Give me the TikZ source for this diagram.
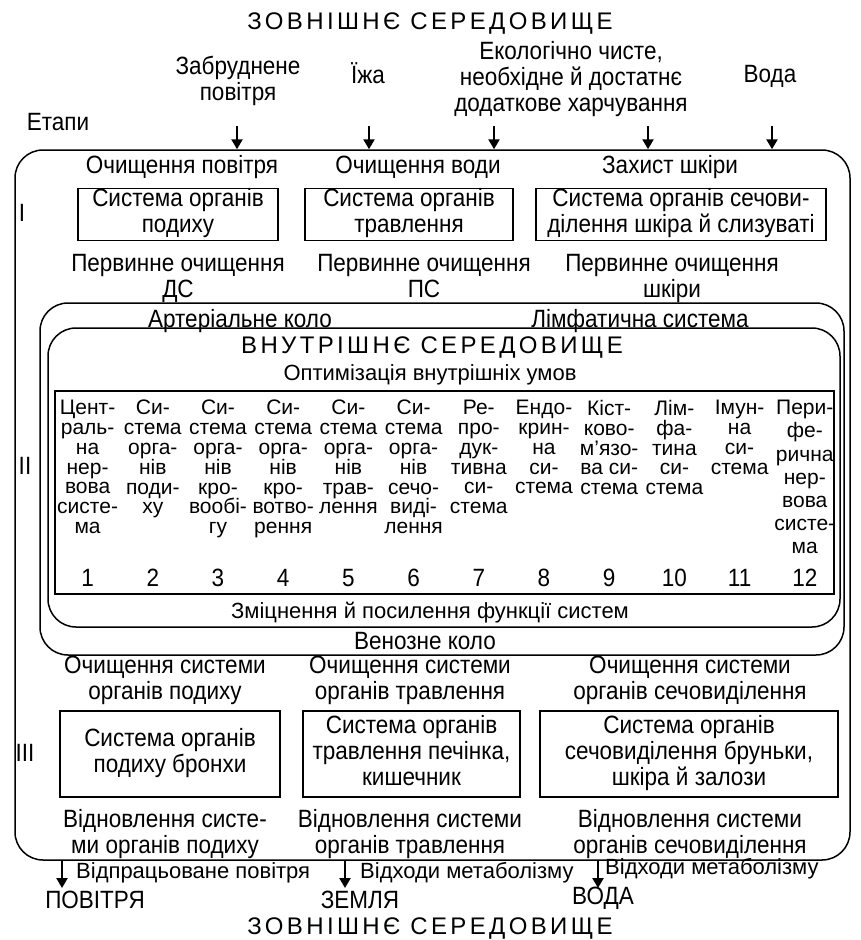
\documentclass[tikz,border=0pt]{standalone}
\usepackage{fontspec}
\setmainfont{Liberation Sans}
\newfontfamily\narrowfont{Liberation Sans}[FakeStretch=0.9]
\newfontfamily\tablefont{Liberation Sans}
\newfontfamily\spacedfont{Liberation Sans}[LetterSpace=14]
\usetikzlibrary{arrows.meta}

% fixed line pitch inside the organ-system columns
\newcommand{\tightlines}{\lineskiplimit=-60pt\lineskip=0pt}

\tikzset{
  lbl/.style={font=\narrowfont\fontsize{25}{26}\selectfont, align=center, inner sep=0pt,
    execute at begin node=\strut, execute at end node=\strut},
  smalllbl/.style={font=\tablefont\fontsize{22}{22}\selectfont, inner sep=0pt,
    execute at begin node=\strut},
  heading/.style={font=\spacedfont\fontsize{24}{27}\selectfont, inner sep=0pt,
    execute at begin node=\strut},
  tabline/.style={font=\tablefont\fontsize{22}{20}\selectfont, inner sep=0pt,
    execute at begin node=\strut},
  coltext/.style={font=\tablefont\fontsize{21}{19.8}\selectfont\tightlines, align=center,
    inner sep=0pt, anchor=north},
  frame/.style={draw, line width=1.5pt, rounded corners=28pt, inner sep=0pt},
  tablebox/.style={draw, line width=1.5pt, inner sep=0pt},
  sysbox/.style={lbl, draw, line width=1.5pt},
  flow/.style={line width=2.6pt, -{Triangle[width=11pt,length=10pt]}},
}

\begin{document}
\begin{tikzpicture}[x=1pt,y=-1pt]
\useasboundingbox (0,0) rectangle (861,940);

% nested frames: whole organism, circulation, internal environment, organ systems
\node[frame, minimum width=835pt, minimum height=710pt] (outer) at (432.5,505) {};
\node[frame, minimum width=804pt, minimum height=352pt] (arterial) at (442,479) {};
\node[frame, minimum width=792pt, minimum height=299pt] (inner) at (444,477.5) {};
\node[tablebox, minimum width=779pt, minimum height=203pt] (systems) at (444.5,492.5) {};

% headings
\node[heading] (exttop) at (430,24) {ЗОВНІШНЄ СЕРЕДОВИЩЕ};
\node[heading] (extbot) at (430,929) {ЗОВНІШНЄ СЕРЕДОВИЩЕ};
\node[heading] (internal) at (432,348) {ВНУТРІШНЄ СЕРЕДОВИЩЕ};

% incoming substances
\node[lbl] (air) at (238,82.5) {Забруднене\\повітря};
\node[lbl] (food) at (368,77) {Їжа};
\node[lbl] (extra) at (571,80.5) {Екологічно чисте,\\необхідне й достатнє\\додаткове харчування};
\node[lbl] (water) at (770,77) {Вода};
\node[lbl] (stages) at (58,125) {Етапи};

\coordinate (inA) at (237,126);
\coordinate (inB) at (369,126);
\coordinate (inC) at (494,126);
\coordinate (inD) at (648,126);
\coordinate (inE) at (772,126);
\foreach \c in {inA,inB,inC,inD,inE}
  \draw[flow] (\c) -- (\c |- outer.north);

% stage numbers
\node[lbl] (st1) at (22,216) {I};
\node[lbl] (st2) at (25,469) {II};
\node[lbl] (st3) at (25,756) {III};

% stage I
\node[lbl] (p1) at (182,168) {Очищення повітря};
\node[lbl] (p2) at (418,168) {Очищення води};
\node[lbl] (p3) at (670,168) {Захист шкіри};
\node[sysbox, minimum width=200pt, minimum height=51pt] (b1) at (178,214.5) {Система органів\\подиху};
\node[sysbox, minimum width=208pt, minimum height=51pt] (b2) at (409,214.5) {Система органів\\травлення};
\node[sysbox, minimum width=290pt, minimum height=51pt] (b3) at (681,214.5) {Система органів сечови-\\ділення шкіра й слизуваті};
\node[lbl] (q1) at (178,280) {Первинне очищення\\ДС};
\node[lbl] (q2) at (424,280) {Первинне очищення\\ПС};
\node[lbl] (q3) at (672,280) {Первинне очищення\\шкіри};

% stage II
\node[lbl] (art) at (240,322) {Артеріальне коло};
\node[lbl] (lymph) at (640,322) {Лімфатична система};
\node[tabline] (optim) at (430,376) {Оптимізація внутрішніх умов};
\foreach \i/\t in {
  1/{Цент-\\раль-\\на\\нер-\\вова\\систе-\\ма},
  2/{Си-\\стема\\орга-\\нів\\поди-\\ху},
  3/{Си-\\стема\\орга-\\нів\\кро-\\вообі-\\гу},
  4/{Си-\\стема\\орга-\\нів\\кро-\\вотво-\\рення},
  5/{Си-\\стема\\орга-\\нів\\трав-\\лення},
  6/{Си-\\стема\\орга-\\нів\\сечо-\\виді-\\лення},
  7/{Ре-\\про-\\дук-\\тивна\\си-\\стема},
  8/{Ендо-\\крин-\\на\\си-\\стема},
  9/{Кіст-\\ково-\\м’язо-\\ва си-\\стема},
  10/{Лім-\\фа-\\тина\\си-\\стема},
  11/{Імун-\\на\\си-\\стема}}
{
  \node[coltext] (col\i) at ({55+65.2*(\i-0.5)},400) {\t};
}
\node[coltext, font=\tablefont\fontsize{21}{23.2}\selectfont\tightlines] (col12) at ({55+65.2*11.5},400)
  {Пери-\\фе-\\рична\\нер-\\вова\\систе-\\ма};
\foreach \i in {1,...,12}
  \node[lbl] (num\i) at ({55+65.2*(\i-0.5)},581) {\i};
\node[tabline] (strength) at (430,613) {Зміцнення й посилення функції систем};
\node[lbl] (ven) at (425,644) {Венозне коло};

% stage III
\node[lbl] (r1) at (165,682) {Очищення системи\\органів подиху};
\node[lbl] (r2) at (410,682) {Очищення системи\\органів травлення};
\node[lbl] (r3) at (690,682) {Очищення системи\\органів сечовиділення};
\node[sysbox, minimum width=220pt, minimum height=86pt] (c1) at (170,754) {Система органів\\подиху бронхи};
\node[sysbox, minimum width=217pt, minimum height=86pt] (c2) at (411.5,754) {Система органів\\травлення печінка,\\кишечник};
\node[sysbox, minimum width=298pt, minimum height=86pt] (c3) at (689,754) {Система органів\\сечовиділення бруньки,\\шкіра й залози};
\node[lbl] (s1) at (165,835) {Відновлення систе-\\ми органів подиху};
\node[lbl] (s2) at (410,835) {Відновлення системи\\органів травлення};
\node[lbl] (s3) at (690,835) {Відновлення системи\\органів сечовиділення};

% outgoing flows
\coordinate (outA) at (62,888);
\coordinate (outB) at (345,888);
\coordinate (outC) at (598,888);
\foreach \c in {outA,outB,outC}
  \draw[flow] (\c |- outer.south) -- (\c);
\node[smalllbl, anchor=west] (w1) at (76,874) {Відпрацьоване повітря};
\node[smalllbl, anchor=west] (w2) at (360,874) {Відходи метаболізму};
\node[smalllbl, anchor=west] (w3) at (605,870) {Відходи метаболізму};
\node[lbl] (air2) at (95,903) {ПОВІТРЯ};
\node[lbl] (earth) at (360,903) {ЗЕМЛЯ};
\node[lbl] (water2) at (603,899) {ВОДА};
\end{tikzpicture}
\end{document}
